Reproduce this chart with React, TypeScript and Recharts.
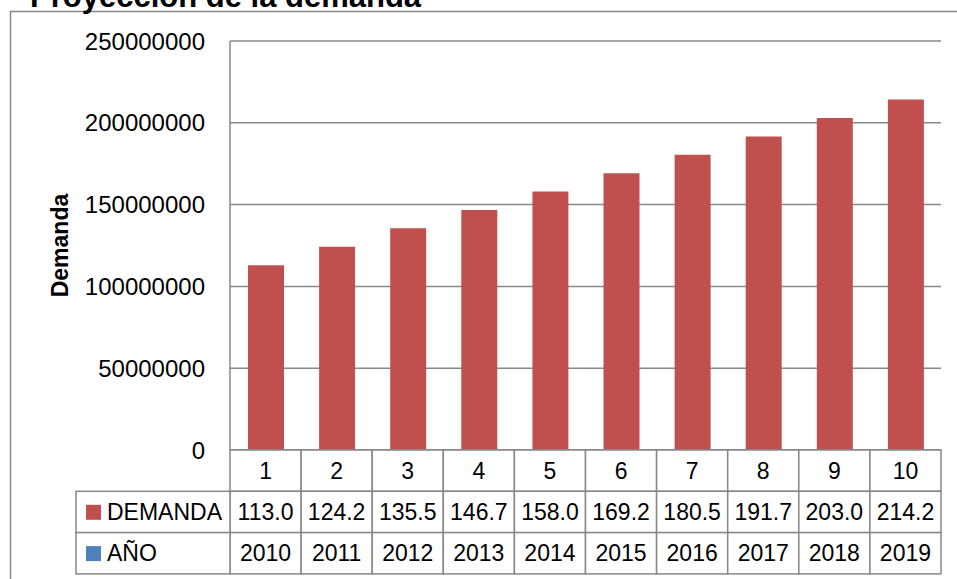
import { BarChart, Bar, XAxis, YAxis, CartesianGrid } from 'recharts';

const periods = ['1', '2', '3', '4', '5', '6', '7', '8', '9', '10'];
const years = ['2010', '2011', '2012', '2013', '2014', '2015', '2016', '2017', '2018', '2019'];
const demanda = [
  113000000, 124200000, 135500000, 146700000, 158000000,
  169200000, 180500000, 191700000, 203000000, 214200000,
];
const yTicks = [0, 50000000, 100000000, 150000000, 200000000, 250000000];

const data = periods.map((p, i) => ({ periodo: p, anio: years[i], demanda: demanda[i] }));

const W = 957;
const H = 579;
const X_AXIS_H = 129;
const MARGIN = { top: 41, right: 16, bottom: 0, left: 30 };
const Y_AXIS_W = 200;
const PLOT_W = W - MARGIN.left - Y_AXIS_W - MARGIN.right;
const CELL_W = PLOT_W / data.length;
const ROW_H = 41.3;
const TABLE_LEFT = 76;

const FONT = '"Liberation Sans", Arial, sans-serif';
const GRID = '#888888';
const RED = '#C0504D';
const BLUE = '#4F81BD';

function TableTick(props: any) {
  const { x, y, index } = props;
  const row = data[index];
  const left = x - CELL_W / 2;
  const cellText = (txt: string, r: number) => (
    <text
      x={x}
      y={y + ROW_H * r + ROW_H / 2 + 8.2}
      textAnchor="middle"
      fontSize={23}
      fontFamily={FONT}
      fill="#000"
    >
      {txt}
    </text>
  );
  return (
    <g>
      {[0, 1, 2].map((r) => (
        <rect
          key={r}
          x={left}
          y={y + ROW_H * r}
          width={CELL_W}
          height={ROW_H}
          fill="#fff"
          stroke={GRID}
          strokeWidth={1.5}
        />
      ))}
      {cellText(row.periodo, 0)}
      {cellText((row.demanda / 1e6).toFixed(1), 1)}
      {cellText(row.anio, 2)}
      {index === 0 && (
        <g>
          {[
            { name: 'DEMANDA', color: RED },
            { name: 'AÑO', color: BLUE },
          ].map((s, k) => (
            <g key={s.name}>
              <rect
                x={TABLE_LEFT}
                y={y + ROW_H * (k + 1)}
                width={left - TABLE_LEFT}
                height={ROW_H}
                fill="#fff"
                stroke={GRID}
                strokeWidth={1.5}
              />
              <rect x={TABLE_LEFT + 10} y={y + ROW_H * (k + 1) + 13.5} width={15} height={15} fill={s.color} />
              <text
                x={TABLE_LEFT + 31}
                y={y + ROW_H * (k + 1) + ROW_H / 2 + 8.2}
                fontSize={23}
                fontFamily={FONT}
                fill="#000"
              >
                {s.name}
              </text>
            </g>
          ))}
        </g>
      )}
    </g>
  );
}

function AxisTitle(props: any) {
  const { viewBox } = props;
  const cx = 59.5;
  const cy = viewBox.y + viewBox.height / 2;
  return (
    <text
      x={cx}
      y={cy}
      transform={`rotate(-90, ${cx}, ${cy})`}
      textAnchor="middle"
      dominantBaseline="central"
      fontSize={23}
      fontWeight="bold"
      fontFamily={FONT}
      fill="#000"
    >
      Demanda
    </text>
  );
}

export default function App() {
  return (
    <div style={{ position: 'absolute', left: 0, top: 0, width: W, height: H, background: '#fff' }}>
      <style>{'body{margin:0}'}</style>
      <svg style={{ position: 'absolute', left: 0, top: 0 }} width={W} height={H}>
        <rect x={10.5} y={11.5} width={W} height={H} fill="none" stroke={GRID} strokeWidth={1.5} />
        <text x={30} y={7} fontSize={31} fontWeight="bold" fontFamily={FONT} fill="#000">
          Proyección de la demanda
        </text>
      </svg>
      <div style={{ position: 'absolute', left: 0, top: 0 }}>
        <BarChart width={W} height={H} data={data} margin={MARGIN}>
          <CartesianGrid vertical={false} stroke={GRID} strokeWidth={1.5} />
          <XAxis
            dataKey="periodo"
            height={X_AXIS_H}
            tickLine={false}
            tickSize={0}
            tickMargin={0}
            axisLine={{ stroke: GRID, strokeWidth: 1.5 }}
            tick={<TableTick />}
            interval={0}
          />
          <YAxis
            width={Y_AXIS_W}
            domain={[0, 250000000]}
            ticks={yTicks}
            tickLine={false}
            axisLine={{ stroke: GRID, strokeWidth: 1.5 }}
            tickMargin={19}
            tick={{ fill: '#000', fontSize: 24, fontFamily: FONT }}
            label={<AxisTitle />}
            interval={0}
          />
          <Bar dataKey="demanda" fill={RED} barSize={36} isAnimationActive={false} />
        </BarChart>
      </div>
    </div>
  );
}
